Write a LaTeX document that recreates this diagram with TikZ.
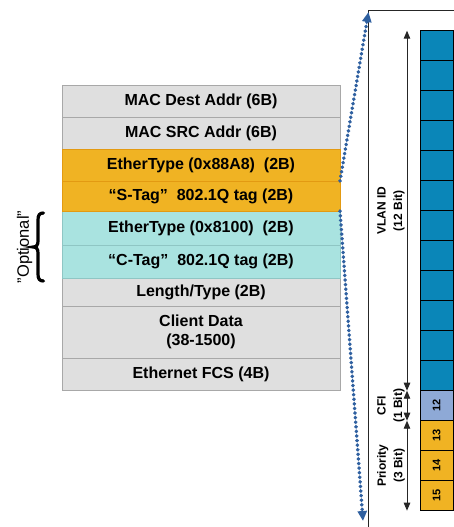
\documentclass[tikz,border=0pt]{standalone}
\usepackage{fontspec}
\setmainfont{Liberation Sans}
\usetikzlibrary{arrows.meta}

\definecolor{rowgray}{HTML}{DFDFDF}
\definecolor{rowgrayline}{HTML}{A8A8A8}
\definecolor{sorange}{HTML}{F0B323}
\definecolor{sorangeline}{HTML}{E39A12}
\definecolor{ccyan}{HTML}{A9E3E0}
\definecolor{ccyanline}{HTML}{8FC6C4}
\definecolor{vlanblue}{HTML}{0A86B8}
\definecolor{cfiblue}{HTML}{8EA9D6}
\definecolor{dotblue}{HTML}{2F60A0}

\tikzset{
  field/.style={draw, line width=0.8pt, minimum width=278pt, inner sep=0pt,
    outer sep=0pt, anchor=north west, align=center, text=black,
    font=\bfseries\fontsize{16}{19.5}\selectfont},
  grayrow/.style={field, fill=rowgray, draw=rowgrayline},
  stagrow/.style={field, fill=sorange, draw=sorangeline},
  ctagrow/.style={field, fill=ccyan, draw=ccyanline},
  bitcell/.style={draw=black, line width=0.8pt, minimum width=33.3pt,
    minimum height=30pt, inner sep=0pt, outer sep=0pt,
    font=\bfseries\fontsize{11}{12}\selectfont},
  bitlabel/.style={rotate=90, align=center,
    font=\bfseries\fontsize{12}{16.5}\selectfont},
  dimarrow/.style={draw=black!85, line width=0.9pt,
    {Triangle[length=8pt,width=6.5pt]}-{Triangle[length=8pt,width=6.5pt]}},
  dotarrow/.style={draw=dotblue, line width=3.6pt, line cap=round,
    dash pattern=on 0.4pt off 4.2pt, -{Triangle[length=10pt,width=9pt]}}
}

\begin{document}
\begin{tikzpicture}[x=1pt,y=-1pt]
\useasboundingbox (0,0) rectangle (454,527);

% Ethernet frame with stacked tags
\node[grayrow, minimum height=32pt] (mdest) at (62,85)  {MAC Dest Addr (6B)};
\node[grayrow, minimum height=32pt] (msrc)  at (62,117) {MAC SRC Addr (6B)};
\node[grayrow, minimum height=28pt] (ltype) at (62,278) {Length/Type (2B)};
\node[grayrow, minimum height=52pt] (cdata) at (62,306) {Client Data\\(38-1500)};
\node[grayrow, minimum height=32pt] (fcs)   at (62,358) {Ethernet FCS (4B)};
\node[ctagrow, minimum height=34pt] (ctype) at (62,211) {EtherType (0x8100)\ \ (2B)};
\node[ctagrow, minimum height=33pt] (ctag)  at (62,245) {“C-Tag”\ \ 802.1Q tag (2B)};
\node[stagrow, minimum height=32pt] (stype) at (62,149) {EtherType (0x88A8)\ \ (2B)};
\node[stagrow, minimum height=30pt] (stag)  at (62,181) {“S-Tag”\ \ 802.1Q tag (2B)};

% optional C-Tag marker
\node[rotate=90, font=\fontsize{16.5}{19}\selectfont] (opt) at (24.5,247) {"Optional"};
\draw[line width=3.2pt, line cap=round]
  (43.5,213) .. controls (39.5,213) and (38,215) .. (38,220) -- (38,241)
  .. controls (38,245) and (36.5,247) .. (33,247)
  .. controls (36.5,247) and (38,249) .. (38,253) -- (38,274)
  .. controls (38,279) and (39.5,281) .. (43.5,281);

% frame of the expanded tag
\coordinate (frametop) at (368,10.5);
\draw[line width=0.9pt, draw=black!85] (368,527) -- (frametop) -- (454,10.5);

% tag bits 0..15
\foreach \i in {0,...,11}
  \node[bitcell, fill=vlanblue] (b\i) at (436.65,45.7+30*\i) {};
\node[bitcell, fill=cfiblue] (b12) at (436.65,405.7) {\rotatebox{90}{12}};
\node[bitcell, fill=sorange] (b13) at (436.65,435.7) {\rotatebox{90}{13}};
\node[bitcell, fill=sorange] (b14) at (436.65,465.7) {\rotatebox{90}{14}};
\node[bitcell, fill=sorange] (b15) at (436.65,495.7) {\rotatebox{90}{15}};

% field extents
\coordinate (dimx) at (407,0);
\draw[dimarrow] (b11.south west -| dimx) -- (b0.north west -| dimx);
\draw[dimarrow] (b12.south west -| dimx) -- (b12.north west -| dimx);
\draw[dimarrow] (b15.south west -| dimx) -- (b13.north west -| dimx);

\node[bitlabel] (lvlan) at (391,210.7) {VLAN ID\\(12 Bit)};
\node[bitlabel] (lcfi)  at (391,405.7) {CFI\\(1 Bit)};
\node[bitlabel] (lprio) at (391,465.7) {Priority\\(3 Bit)};

% S-Tag expansion
\coordinate (toptip) at (368.5,12);
\coordinate (bottip) at (363,521);
\draw[dotarrow] (stag.north east) -- (toptip);
\draw[dotarrow] (stag.south east) -- (bottip);
\end{tikzpicture}
\end{document}
